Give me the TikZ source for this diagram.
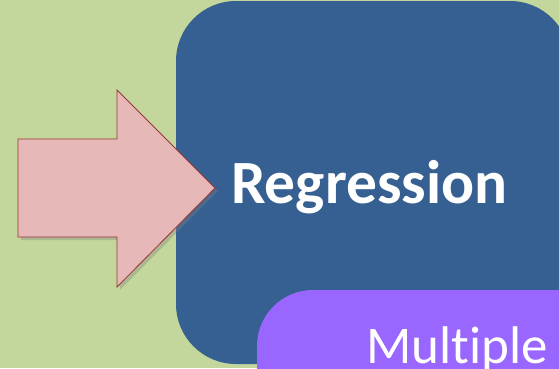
\documentclass[tikz,border=0pt]{standalone}
\usepackage{fontspec}
\setmainfont[Ligatures=NoCommon]{Carlito}
\usetikzlibrary{shadows}
\definecolor{bggreen}{HTML}{C3D69B}
\definecolor{boxblue}{HTML}{366092}
\definecolor{arrowpink}{HTML}{E6B9B8}
\definecolor{arrowred}{HTML}{953735}
\definecolor{boxpurple}{HTML}{9966FF}
\tikzset{
  box/.style={rounded corners=#1,draw=none},
  word/.style={text=white,inner sep=0pt,anchor=base west}
}
\begin{document}
\begin{tikzpicture}[x=1pt,y=1pt]
\useasboundingbox (0,0) rectangle (559,368);
\clip (0,0) rectangle (559,368);
\fill[bggreen] (0,0) rectangle (559,368);
\fill[boxblue,box=60pt] (176,4) rectangle (570,367);
\fill[boxpurple,box=56pt] (257,-60) rectangle (620,78);
\coordinate (T1) at (18,229);
\coordinate (T2) at (117,229);
\coordinate (H1) at (117,278);
\coordinate (Tip) at (215,180);
\coordinate (H2) at (117,81);
\coordinate (T3) at (117,131);
\coordinate (T4) at (18,131);
\draw[arrowred,fill=arrowpink,line width=0.8pt,
  drop shadow={shadow xshift=3pt,shadow yshift=-3pt,opacity=0.35}]
  (T1)--(T2)--(H1)--(Tip)--(H2)--(T3)--(T4)--cycle;
\node[word,font=\bfseries\fontsize{61.5}{62}\selectfont] (reg) at (231,165) {Regression};
\node[word,font=\fontsize{53}{53}\selectfont] (mult) at (366,5) {Multiple};
\end{tikzpicture}
\end{document}
